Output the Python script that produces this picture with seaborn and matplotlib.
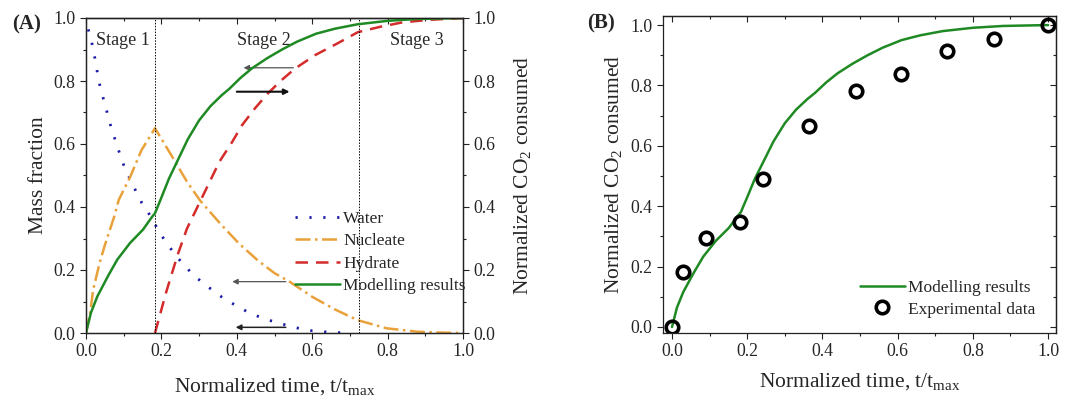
import numpy as np
import pandas as pd
import matplotlib
matplotlib.use("Agg")
import matplotlib.pyplot as plt
from matplotlib.ticker import MultipleLocator
import seaborn as sns

# ---------------- data ----------------
t_water = [0.006, 0.015, 0.022, 0.028, 0.034, 0.042, 0.052, 0.06, 0.07, 0.081, 0.092, 0.104,
           0.119, 0.134, 0.148, 0.164, 0.183, 0.2, 0.221, 0.24, 0.26, 0.285, 0.311, 0.341,
           0.367, 0.4, 0.43, 0.46, 0.49, 0.525, 0.56, 0.6, 0.65, 0.7]
water = [0.964, 0.924, 0.883, 0.842, 0.80, 0.76, 0.72, 0.68, 0.64, 0.60, 0.56, 0.52,
         0.484, 0.446, 0.413, 0.385, 0.345, 0.31, 0.274, 0.243, 0.216, 0.184, 0.158, 0.131,
         0.108, 0.086, 0.066, 0.051, 0.039, 0.027, 0.016, 0.007, 0.002, 0.0]

t_nucleate = [0.0, 0.011, 0.019, 0.036, 0.049, 0.075, 0.087, 0.117, 0.147, 0.183, 0.226, 0.268,
              0.303, 0.354, 0.405, 0.456, 0.5, 0.54, 0.6, 0.66, 0.72, 0.797, 0.88, 0.95, 1.0]
nucleate = [0.0, 0.064, 0.137, 0.222, 0.275, 0.37, 0.423, 0.495, 0.58, 0.65, 0.565, 0.48,
            0.42, 0.35, 0.285, 0.23, 0.19, 0.163, 0.115, 0.075, 0.041, 0.015, 0.004, 0.001, 0.0]

t_hydrate = [0.183, 0.213, 0.243, 0.268, 0.298, 0.328, 0.354, 0.388, 0.414, 0.448, 0.482, 0.516,
             0.555, 0.609, 0.668, 0.721, 0.78, 0.839, 0.908, 1.0]
hydrate = [0.0, 0.131, 0.248, 0.332, 0.406, 0.48, 0.544, 0.607, 0.66, 0.713, 0.76, 0.80,
           0.84, 0.883, 0.92, 0.955, 0.972, 0.986, 0.994, 1.0]

t_model = [0.0, 0.013, 0.03, 0.058, 0.083, 0.117, 0.151, 0.176, 0.183, 0.2, 0.22, 0.25, 0.27,
           0.3, 0.33, 0.36, 0.38, 0.41, 0.44, 0.48, 0.52, 0.56, 0.61, 0.66, 0.72, 0.8, 0.88, 1.0]
model = [0.0, 0.064, 0.116, 0.18, 0.233, 0.286, 0.328, 0.37, 0.38, 0.43, 0.49, 0.565, 0.615,
         0.675, 0.72, 0.755, 0.775, 0.81, 0.84, 0.872, 0.90, 0.925, 0.95, 0.966, 0.98, 0.991,
         0.997, 1.0]

t_exp = [0.0, 0.028, 0.09, 0.18, 0.243, 0.365, 0.488, 0.61, 0.732, 0.855, 1.0]
exp_co2 = [0.0, 0.183, 0.296, 0.349, 0.49, 0.666, 0.782, 0.838, 0.915, 0.953, 1.0]

stage_bounds = [0.183, 0.723]
stage_labels = ["Stage 1", "Stage 2", "Stage 3"]
stage_x = [0.098, 0.471, 0.878]
legend_a = ["Water", "Nucleate", "Hydrate", "Modelling results"]
legend_b = ["Modelling results", "Experimental data"]

# ---------------- style ----------------
sns.set_style("ticks")
plt.rcParams['font.family'] = ['Liberation Serif', 'DejaVu Serif']
plt.rcParams['mathtext.fontset'] = 'custom'
plt.rcParams['mathtext.rm'] = 'Liberation Serif'
plt.rcParams['mathtext.it'] = 'Liberation Serif:italic'
plt.rcParams['axes.linewidth'] = 0.9
plt.rcParams['axes.edgecolor'] = '#222222'

GREEN = '#1f8a24'
BLUE = '#1c1ca8'
ORANGE = '#e9a13b'
RED = '#d42b2b'
TICK_FS = 12.8
LAB_FS = 15.5

fig = plt.figure(figsize=(10.66, 4.0), dpi=100)
axA = fig.add_axes([86/1066, 1-333/400, 377/1066, 315/400])
axB = fig.add_axes([663/1066, 1-333/400, 393/1066, 317/400])


def style_ticks(ax, xminor=0.1, yminor=0.1):
    ax.xaxis.set_major_locator(MultipleLocator(0.2))
    ax.xaxis.set_minor_locator(MultipleLocator(xminor))
    ax.yaxis.set_major_locator(MultipleLocator(0.2))
    ax.yaxis.set_minor_locator(MultipleLocator(yminor))
    ax.tick_params(which='major', direction='out', length=4.5, width=0.8, labelsize=TICK_FS,
                   color='#222222', pad=3)
    ax.tick_params(which='minor', direction='out', length=2.5, width=0.8, color='#222222')
    ax.xaxis.set_major_formatter(matplotlib.ticker.FormatStrFormatter('%.1f'))
    ax.yaxis.set_major_formatter(matplotlib.ticker.FormatStrFormatter('%.1f'))


def inner_top(ax):
    sec = ax.secondary_xaxis('top')
    sec.xaxis.set_major_locator(MultipleLocator(0.2))
    sec.xaxis.set_minor_locator(MultipleLocator(0.1))
    sec.tick_params(which='major', direction='in', length=4.5, width=0.8, labeltop=False, color='#222222')
    sec.tick_params(which='minor', direction='in', length=2.5, width=0.8, color='#222222')
    sec.spines['top'].set_linewidth(0.9)
    return sec


# ---------------- panel A ----------------
axA2 = axA.twinx()
lw = 1.8
sns.lineplot(x=t_water, y=water, ax=axA, color=BLUE, lw=2.0, linestyle=(0, (0.8, 4.2)),
             label=legend_a[0], sort=False)
sns.lineplot(x=t_nucleate, y=nucleate, ax=axA, color=ORANGE, lw=lw, linestyle=(0, (6, 1.8, 1, 1.8)),
             label=legend_a[1], sort=False)
sns.lineplot(x=t_hydrate, y=hydrate, ax=axA, color=RED, lw=lw, linestyle=(0, (5, 3.2)),
             label=legend_a[2], sort=False)
sns.lineplot(x=t_model, y=model, ax=axA2, color=GREEN, lw=lw, label=legend_a[3], sort=False)

for xb in stage_bounds:
    axA.axvline(xb, color='black', lw=0.7, linestyle=(0, (1.5, 1.5)))
for lab, xs in zip(stage_labels, stage_x):
    axA.text(xs, 0.93, lab, ha='center', va='center', fontsize=13)

axA.set_xlim(0, 1)
axA.set_ylim(0, 1)
axA2.set_ylim(0, 1)
style_ticks(axA)
style_ticks(axA2)
axA.tick_params(top=False)
inner_top(axA)
axA.set_xlabel("Normalized time, t/t$_{\\mathrm{max}}$", fontsize=LAB_FS, labelpad=11)
axA.set_ylabel("Mass fraction", fontsize=LAB_FS, labelpad=4)
axA2.set_ylabel("Normalized CO$_2$ consumed", fontsize=LAB_FS, labelpad=12)

# arrows
arrow_specs = [((0.55, 0.842), (0.418, 0.842), '#555555', 0.9),
               ((0.40, 0.766), (0.54, 0.766), '#111111', 1.5),
               ((0.53, 0.163), (0.388, 0.163), '#555555', 0.9),
               ((0.53, 0.018), (0.397, 0.018), '#222222', 1.1)]
for (x0, y0), (x1, y1), c, w in arrow_specs:
    axA.annotate("", xy=(x1, y1), xytext=(x0, y0),
                 arrowprops=dict(arrowstyle='-|>', color=c, lw=w, mutation_scale=8,
                                 shrinkA=0, shrinkB=0))

for a in (axA, axA2):
    if a.get_legend() is not None:
        a.get_legend().remove()
hA, lA = axA.get_legend_handles_labels()
hA2, lA2 = axA2.get_legend_handles_labels()
axA2.legend(hA + hA2, lA + lA2, loc='upper left', bbox_to_anchor=(0.555, 0.388),
            frameon=False, fontsize=12.5, handlelength=2.6, handletextpad=0.15,
            labelspacing=0.36, borderpad=0, borderaxespad=0)

fig.text(12/1066, 1-24/400, "(A)", fontsize=15, fontweight='bold', va='center', ha='left')

# ---------------- panel B ----------------
sns.lineplot(x=t_model, y=model, ax=axB, color=GREEN, lw=lw, label=legend_b[0], sort=False)
sns.lineplot(x=t_exp, y=exp_co2, ax=axB, linestyle='', marker='o', ms=9, mfc='none',
             mec='black', mew=2.6, label=legend_b[1], sort=False)
axB.set_xlim(-0.024, 1.021)
axB.set_ylim(-0.02, 1.03)
style_ticks(axB)
axB.tick_params(top=False, right=False)
inner_top(axB)
secr = axB.secondary_yaxis('right')
secr.yaxis.set_major_locator(MultipleLocator(0.2))
secr.yaxis.set_minor_locator(MultipleLocator(0.1))
secr.tick_params(which='major', direction='in', length=4.5, width=0.8, labelright=False, color='#222222')
secr.tick_params(which='minor', direction='in', length=2.5, width=0.8, color='#222222')
axB.set_xlabel("Normalized time, t/t$_{\\mathrm{max}}$", fontsize=LAB_FS, labelpad=8)
axB.set_ylabel("Normalized CO$_2$ consumed", fontsize=LAB_FS, labelpad=5)
if axB.get_legend() is not None:
    axB.get_legend().remove()
hB, lB = axB.get_legend_handles_labels()
axB.legend(hB, lB, loc='upper left', bbox_to_anchor=(0.50, 0.167), frameon=False,
           fontsize=12.5, handlelength=2.6, handletextpad=0.2, labelspacing=0.3,
           borderpad=0, borderaxespad=0)

fig.text(587/1066, 1-23/400, "(B)", fontsize=15, fontweight='bold', va='center', ha='left')

fig.savefig("out.png", dpi=100)
